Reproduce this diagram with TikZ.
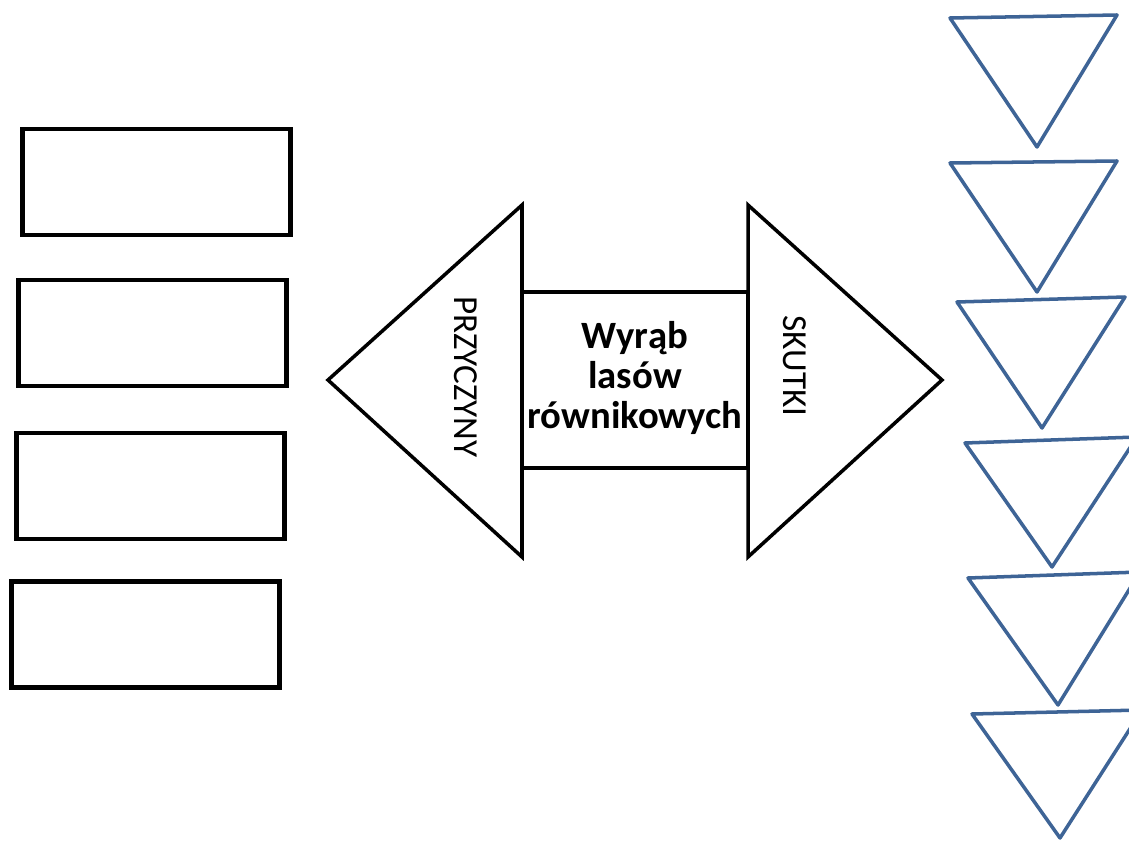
\documentclass[tikz,border=0pt]{standalone}
\usepackage{fontspec}
\setmainfont{Carlito}
\usepackage{tikz}
\usetikzlibrary{positioning}

\definecolor{triblue}{RGB}{62,100,150}

\begin{document}
\begin{tikzpicture}[
  x=0.02cm,y=-0.02cm,
  box/.style={draw,line width=2.3pt,minimum width=268*0.02cm,minimum height=106*0.02cm,inner sep=0pt},
  arr/.style={draw,line width=2pt,line join=miter},
  tri/.style={draw=triblue,line width=2pt,line join=round},
  side/.style={font=\fontsize{20}{24}\selectfont,rotate=-90,inner sep=0pt},
  mid/.style={font=\fontsize{22}{23}\bfseries\selectfont,align=center,inner sep=0pt}
]
\useasboundingbox (0,0) rectangle (1129,841);
\clip (0,0) rectangle (1129,841);

%%%%%%%%%%%%%%%%%%%%%% boxes on the left %%%%%%%%%%%%%%%%%%%%%%%%%%%%%%%%%%%
\node[box] (r1) at (156.5,182) {};
\node[box] (r2) at (152.5,333) {};
\node[box] (r3) at (150.5,486) {};
\node[box] (r4) at (145.5,634.5) {};

%%%%%%%%%%%%%%%%%%%%%% double arrow %%%%%%%%%%%%%%%%%%%%%%%%%%%%%%%%%%%%%%%%
\draw[arr] (522,292) -- (522,205) -- (328,380) -- (522,557) -- (522,468)
  -- (748,468) -- (748,557) -- (942,380) -- (748,205) -- (748,292) -- cycle;
\draw[arr] (522,292) -- (522,468);
\draw[arr] (748,292) -- (748,468);

\node[side] (cause)  at (466,377) {PRZYCZYNY};
\node[side] (effect) at (795,366) {SKUTKI};
\node[mid]  (topic)  at (635,378) {Wyrąb\\lasów\\równikowych};

%%%%%%%%%%%%%%%%%%%%%% triangles on the right %%%%%%%%%%%%%%%%%%%%%%%%%%%%%%
\foreach \xa/\ya/\xb/\yb/\xc/\yc in {
    950/18/1117/15/1037/147,
    950/163/1117/161/1037/292,
    957/302/1125/297/1042/428,
    965/443/1137/437/1052/567,
    968/578/1140/572/1058/705,
    972/714/1142/710/1060/838}
  \draw[tri] (\xa,\ya) -- (\xb,\yb) -- (\xc,\yc) -- cycle;
\end{tikzpicture}
\end{document}
